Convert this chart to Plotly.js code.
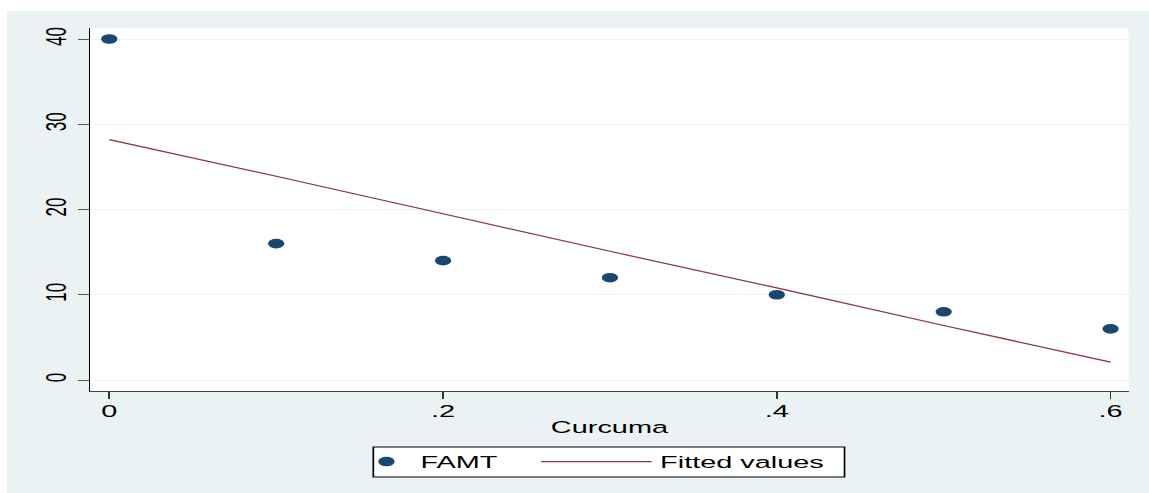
<!DOCTYPE html>
<html>
<head>
<meta charset="utf-8">
<script src="https://cdn.plot.ly/plotly-3.0.1.min.js"></script>
<style>
  html, body { margin: 0; padding: 0; background: #ffffff; overflow: hidden; }
  #wrap { position: absolute; left: 7px; top: 11px; width: 1142px; height: 482px; overflow: hidden; }
  #chart { width: 672px; height: 482px; transform: scaleX(1.699405); transform-origin: 0 0; }
</style>
</head>
<body>
<div id="wrap"><div id="chart"></div></div>
<script>
// Data
const curcuma = [0, 0.1, 0.2, 0.3, 0.4, 0.5, 0.6];
const famt = [40, 16, 14, 12, 10, 8, 6];
const fittedValues = [28.2, 23.9, 19.5, 15.1, 10.8, 6.4, 2.1];
const xTickVals = [0, 0.2, 0.4, 0.6];
const xTickText = ["0", ".2", ".4", ".6"];
const yTickVals = [0, 10, 20, 30, 40];
const yTickText = ["0", "10", "20", "30", "40"];

const font = { family: "Liberation Sans, Arial, sans-serif", size: 17, color: "#000000" };

const traces = [
  {
    x: curcuma, y: famt, name: "FAMT", type: "scatter", mode: "markers",
    marker: { color: "#1a476f", size: 9.6, line: { width: 0 } },
    legend: "legend"
  },
  {
    x: curcuma, y: fittedValues, name: "Fitted values", type: "scatter", mode: "lines",
    line: { color: "#90353b", width: 1.2 },
    legend: "legend2"
  }
];

const legendCommon = {
  orientation: "h", xref: "container", xanchor: "left",
  yref: "container", y: 0.1017, yanchor: "top",
  bgcolor: "rgba(0,0,0,0)", borderwidth: 0, font: font
};

const layout = {
  width: 672, height: 482,
  paper_bgcolor: "#eaf2f3",
  plot_bgcolor: "#ffffff",
  font: font,
  margin: { l: 49.43, r: 11.77, t: 17, b: 102, autoexpand: false },
  showlegend: true,
  legend: Object.assign({}, legendCommon, { x: 0.3025, itemwidth: 30 }),
  legend2: Object.assign({}, legendCommon, { x: 0.4603, itemwidth: 65 }),
  shapes: [
    { type: "rect", xref: "paper", yref: "paper", layer: "above",
      x0: 0.2726, x1: 0.7264, y0: -0.2369, y1: -0.1543,
      fillcolor: "#ffffff", line: { color: "#000000", width: 1 } }
  ],
  xaxis: {
    range: [-0.0114, 0.6108],
    tickvals: xTickVals, ticktext: xTickText,
    ticks: "outside", ticklen: 7, tickwidth: 1, tickcolor: "#333333",
    ticklabelstandoff: -2,
    showline: true, linecolor: "#444444", linewidth: 1,
    showgrid: false, zeroline: false,
    title: { text: "Curcuma", font: font, standoff: 0 },
    tickfont: font
  },
  yaxis: {
    range: [-1.29, 41.29],
    tickvals: yTickVals, ticktext: yTickText, tickangle: -90,
    ticks: "outside", ticklen: 6.5, tickwidth: 1, tickcolor: "#555555",
    showline: true, linecolor: "#000000", linewidth: 1,
    showgrid: true, gridcolor: "#eaf2f3", gridwidth: 1,
    zeroline: false,
    tickfont: font
  }
};

Plotly.newPlot("chart", traces, layout, { displayModeBar: false, staticPlot: true });
</script>
</body>
</html>
